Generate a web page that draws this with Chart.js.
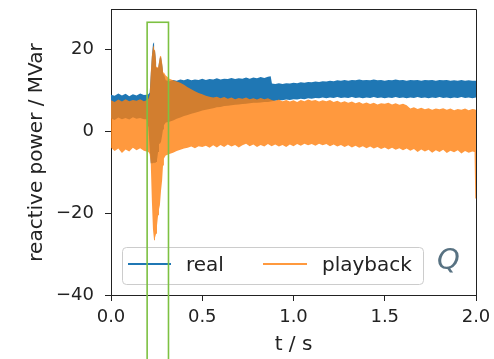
<!DOCTYPE html>
<html><head><meta charset="utf-8">
<script src="https://cdn.jsdelivr.net/npm/chart.js@4/dist/chart.umd.min.js"></script>
<style>html,body{margin:0;padding:0;background:#fff}#c{display:block}</style>
</head><body>
<canvas id="c" width="494" height="359"></canvas>
<script>
// ---------- data ----------
const seriesNames = ['real', 'playback'];
const xTitle = 't / s';
const yTitle = 'reactive power / MVar';
const annotationText = 'Q';
const xTicks = [0, 0.5, 1.0, 1.5, 2.0];
const yTicks = [-40, -20, 0, 20];
const xLimits = [0, 2];
const yLimits = [-40, 29.7];
const highlightT = [0.198, 0.315];
const highlightY = [-60, 26.7];

// playback (orange) envelope
const tPlay = [
 0.00,0.02,0.04,0.06,0.08,0.10,0.12,0.14,0.16,0.18,
 0.195,0.205,0.212,0.218,0.224,0.230,0.236,0.241,0.247,0.252,0.258,0.263,0.268,0.274,0.280,0.285,0.290,
 0.300,0.310,0.320,
 0.34,0.36,0.38,0.40,0.42,0.44,0.46,0.48,0.50,
 0.52,0.54,0.56,0.58,0.60,0.62,0.64,0.66,0.68,0.70,
 0.72,0.74,0.76,0.78,0.80,0.82,0.84,0.86,0.88,0.90,
 0.92,0.94,0.96,0.98,1.00,1.02,1.04,1.06,1.08,1.10,
 1.12,1.14,1.16,1.18,1.20,1.22,1.24,1.26,1.28,1.30,
 1.32,1.34,1.36,1.38,1.40,1.42,1.44,1.46,1.48,1.50,
 1.52,1.54,1.56,1.58,1.60,1.62,1.64,1.66,1.68,1.70,
 1.72,1.74,1.76,1.78,1.80,1.82,1.84,1.86,1.88,1.90,
 1.92,1.94,1.96,1.98,
 1.992,1.996,2.000];
const playUpper = [
 7.6,7.2,7.8,7.3,7.9,7.4,7.7,7.5,7.9,7.4,
 7.6,8.0,9.0,14.5,18.5,20.6,21.1,20.0,17.3,15.8,15.6,17.0,18.3,18.5,16.8,14.9,14.4,
 13.7,13.3,12.9,
 12.5,12.2,11.9,11.4,10.8,10.3,9.8,9.4,9.1,
 8.7,8.5,8.3,8.5,8.1,8.4,8.0,8.3,7.9,8.2,
 8.0,8.3,7.9,8.1,7.8,8.2,7.9,8.1,7.7,7.5,
 7.8,7.4,7.7,7.3,7.6,7.2,7.7,7.4,7.8,7.5,
 7.7,7.3,7.6,7.4,7.7,7.2,7.5,7.1,7.4,7.0,
 7.3,6.9,7.2,6.8,7.1,6.7,7.0,6.6,6.9,6.8,
 7.0,6.6,6.9,6.5,6.8,6.4,5.6,5.9,5.5,5.8,
 5.4,5.7,5.3,5.6,5.4,5.7,5.3,5.6,5.2,5.5,
 5.3,5.6,5.2,5.5,
 5.4,5.3,5.3];
const playLower = [
 -4.0,-4.8,-4.2,-5.3,-4.4,-4.9,-4.0,-4.6,-4.1,-4.7,
 -4.9,-5.0,-5.5,-8.0,-17.0,-24.0,-26.6,-26.0,-25.0,-23.0,-20.5,-19.0,-18.0,-14.5,-12.0,-8.3,-6.6,
 -5.9,-5.7,-5.5,
 -5.2,-4.8,-4.5,-4.2,-4.0,-3.7,-4.1,-3.6,-3.8,
 -3.5,-4.0,-3.4,-3.9,-3.3,-3.8,-3.2,-3.7,-3.3,-3.9,
 -3.4,-3.0,-3.6,-3.2,-3.8,-3.3,-3.7,-3.1,-3.6,-3.2,
 -3.7,-3.3,-3.8,-3.2,-3.6,-3.1,-3.5,-3.0,-3.4,-3.1,
 -3.5,-3.0,-3.4,-3.1,-3.6,-3.2,-3.7,-3.3,-3.8,-3.4,
 -3.9,-3.5,-4.0,-3.6,-4.1,-3.7,-4.2,-3.8,-4.3,-3.9,
 -4.4,-4.0,-4.5,-4.1,-4.6,-4.2,-4.7,-4.3,-5.0,-4.4,
 -4.9,-4.5,-5.2,-4.6,-5.0,-4.5,-5.3,-4.7,-5.1,-4.6,
 -5.4,-4.8,-5.2,-4.9,
 -5.0,-16.4,-16.4];

// real (blue) envelope
const tReal = [
 0.00,0.02,0.04,0.06,0.08,0.10,0.12,0.14,0.16,0.18,
 0.195,0.205,0.212,0.218,0.224,0.230,0.236,0.241,0.247,0.252,0.258,0.263,0.268,0.274,0.280,0.285,0.290,
 0.30,0.32,0.34,0.36,0.38,0.40,0.42,0.44,0.46,0.48,
 0.50,0.52,0.54,0.56,0.58,0.60,0.62,0.64,0.66,0.68,
 0.70,0.72,0.74,0.76,0.78,0.80,0.82,0.84,0.86,
 0.875,0.882,
 0.90,0.92,0.94,0.96,0.98,1.00,1.02,1.04,1.06,1.08,
 1.10,1.12,1.14,1.16,1.18,1.20,1.22,1.24,1.26,1.28,
 1.30,1.32,1.34,1.36,1.38,1.40,1.42,1.44,1.46,1.48,
 1.50,1.52,1.54,1.56,1.58,1.60,1.62,1.64,1.66,1.68,
 1.70,1.72,1.74,1.76,1.78,1.80,1.82,1.84,1.86,1.88,
 1.90,1.92,1.94,1.96,1.98,2.00];
const realUpper = [
 9.0,8.7,9.3,8.8,9.2,8.6,9.1,8.8,9.3,8.9,
 9.0,9.1,9.5,14.0,18.3,21.4,21.8,19.8,17.0,15.6,15.4,16.8,18.0,18.2,16.5,14.7,14.0,
 12.5,12.3,12.6,12.4,12.7,12.5,12.8,12.5,12.7,12.6,
 12.9,12.6,12.8,12.7,13.0,12.7,12.9,12.8,13.1,12.8,
 13.0,12.9,13.2,12.9,13.2,13.0,13.3,13.1,13.4,
 13.5,11.7,
 11.6,11.8,11.6,11.8,11.7,11.9,11.8,12.0,11.9,12.1,
 12.0,12.2,12.1,12.3,12.2,12.4,12.3,12.5,12.4,12.6,
 12.4,12.6,12.5,12.7,12.5,12.6,12.5,12.7,12.5,12.6,
 12.4,12.6,12.5,12.7,12.5,12.6,12.4,12.6,12.5,12.6,
 12.4,12.6,12.5,12.6,12.4,12.6,12.5,12.6,12.4,12.5,
 12.4,12.6,12.4,12.5,12.4,12.4];
const realLower = [
 3.2,2.8,3.4,3.0,3.3,2.9,3.5,3.1,3.3,3.0,
 3.0,1.0,-4.0,-7.8,-7.8,-7.8,-7.6,-7.8,-7.5,-7.0,-5.0,-3.0,-3.0,-2.5,-1.0,0.5,1.5,
 2.2,2.4,2.7,3.1,3.4,3.8,4.0,4.3,4.6,4.8,
 5.1,5.3,5.5,5.7,5.9,6.0,6.2,6.3,6.4,6.5,
 6.6,6.7,6.8,6.9,7.0,7.0,7.1,7.2,7.2,
 7.3,7.4,
 7.5,7.7,7.6,7.8,7.7,7.9,7.8,8.0,7.9,8.1,
 8.0,8.2,8.1,8.3,8.1,8.3,8.2,8.4,8.2,8.3,
 8.2,8.4,8.2,8.3,8.1,8.3,8.2,8.4,8.2,8.3,
 8.1,8.3,8.2,8.4,8.2,8.3,8.1,8.3,8.2,8.4,
 8.2,8.3,8.1,8.3,8.2,8.4,8.2,8.3,8.1,8.3,
 8.2,8.4,8.2,8.3,8.1,8.3];

// ---------- styling ----------
const BLUE = '#1f77b4';
const ORANGE = 'rgba(255,127,14,0.8)';
const ORANGE_SOLID = '#ff7f0e';
const GREEN = '#7dc142';
const INK = '#222222';
const FONT = 'DejaVu Sans';

const pts = (t, v) => t.map((x, i) => ({x: x, y: v[i]}));

const frame = {
  id: 'frame',
  afterDraw(chart) {
    const {ctx, chartArea: a, scales: {x, y}} = chart;
    ctx.save();
    // top & right spines
    ctx.strokeStyle = INK; ctx.lineWidth = 1;
    ctx.beginPath();
    ctx.moveTo(a.left, Math.round(a.top) - 0.5);
    ctx.lineTo(Math.round(a.right) + 0.5, Math.round(a.top) - 0.5);
    ctx.lineTo(Math.round(a.right) + 0.5, a.bottom);
    ctx.stroke();
    // legend
    const lx = 122.5, ly = 247.5, lw = 301, lh = 37;
    ctx.beginPath();
    ctx.roundRect(lx, ly, lw, lh, 4);
    ctx.fillStyle = 'rgba(255,255,255,0.8)';
    ctx.fill();
    ctx.strokeStyle = '#cccccc';
    ctx.stroke();
    ctx.lineWidth = 2;
    ctx.strokeStyle = BLUE;
    ctx.beginPath(); ctx.moveTo(128, 264); ctx.lineTo(171, 264); ctx.stroke();
    ctx.strokeStyle = ORANGE_SOLID;
    ctx.globalAlpha = 0.8;
    ctx.beginPath(); ctx.moveTo(263, 264); ctx.lineTo(307, 264); ctx.stroke();
    ctx.globalAlpha = 1;
    ctx.fillStyle = INK;
    ctx.font = '20px "' + FONT + '"';
    ctx.textBaseline = 'alphabetic';
    ctx.textAlign = 'left';
    ctx.fillText(seriesNames[0], 186, 271);
    ctx.fillText(seriesNames[1], 322, 271);
    // annotation
    ctx.font = 'italic 29px "' + FONT + '"';
    ctx.fillStyle = '#587282';
    ctx.fillText(annotationText, 437, 269);
    // highlight rectangle
    const x0 = x.getPixelForValue(highlightT[0]);
    const x1 = x.getPixelForValue(highlightT[1]);
    const yTop = y.getPixelForValue(highlightY[1]);
    const yBot = y.getPixelForValue(highlightY[0]);
    ctx.strokeStyle = GREEN;
    ctx.lineWidth = 1.6;
    ctx.strokeRect(x0, yTop, x1 - x0, yBot - yTop);
    ctx.restore();
  }
};

new Chart(document.getElementById('c'), {
  type: 'line',
  data: {
    datasets: [
      {label: seriesNames[1] + ' upper', data: pts(tPlay, playUpper), borderColor: 'transparent', borderWidth: 0, pointRadius: 0, fill: false, order: 0},
      {label: seriesNames[1], data: pts(tPlay, playLower), borderColor: 'transparent', borderWidth: 0, pointRadius: 0, fill: '-1', backgroundColor: ORANGE, order: 0},
      {label: seriesNames[0] + ' upper', data: pts(tReal, realUpper), borderColor: 'transparent', borderWidth: 0, pointRadius: 0, fill: false, order: 1},
      {label: seriesNames[0], data: pts(tReal, realLower), borderColor: 'transparent', borderWidth: 0, pointRadius: 0, fill: '-1', backgroundColor: BLUE, order: 1}
    ]
  },
  options: {
    responsive: false,
    animation: false,
    devicePixelRatio: 1,
    elements: {line: {tension: 0}},
    layout: {padding: {top: 10, right: 18, left: 0, bottom: 0}},
    plugins: {legend: {display: false}, tooltip: {enabled: false}},
    scales: {
      x: {
        type: 'linear', min: xLimits[0], max: xLimits[1],
        afterBuildTicks(s) { s.ticks = xTicks.map(v => ({value: v})); },
        afterFit(s) { s.height = 64; s.paddingLeft = 0; s.paddingRight = 0; },
        ticks: {callback: v => Number(v).toFixed(1), font: {family: FONT, size: 18}, color: INK, padding: 6, maxRotation: 0, autoSkip: false},
        grid: {drawOnChartArea: false, drawTicks: true, tickLength: 6, tickColor: INK, tickWidth: 1},
        border: {display: true, color: INK, width: 1},
        title: {display: true, text: xTitle, font: {family: FONT, size: 20}, color: INK, padding: {top: 0, bottom: 2}}
      },
      y: {
        type: 'linear', min: yLimits[0], max: yLimits[1],
        afterBuildTicks(s) { s.ticks = yTicks.map(v => ({value: v})); },
        afterFit(s) { s.width = 111; s.paddingTop = 0; s.paddingBottom = 0; },
        ticks: {callback: v => String(v).replace('-', '\u2212'), font: {family: FONT, size: 18}, color: INK, padding: 11, autoSkip: false},
        grid: {drawOnChartArea: false, drawTicks: true, tickLength: 6, tickColor: INK, tickWidth: 1},
        border: {display: true, color: INK, width: 1},
        title: {display: true, text: yTitle, font: {family: FONT, size: 20}, color: INK, padding: {top: 25, bottom: 0}}
      }
    }
  },
  plugins: [frame]
});
</script>
</body></html>
